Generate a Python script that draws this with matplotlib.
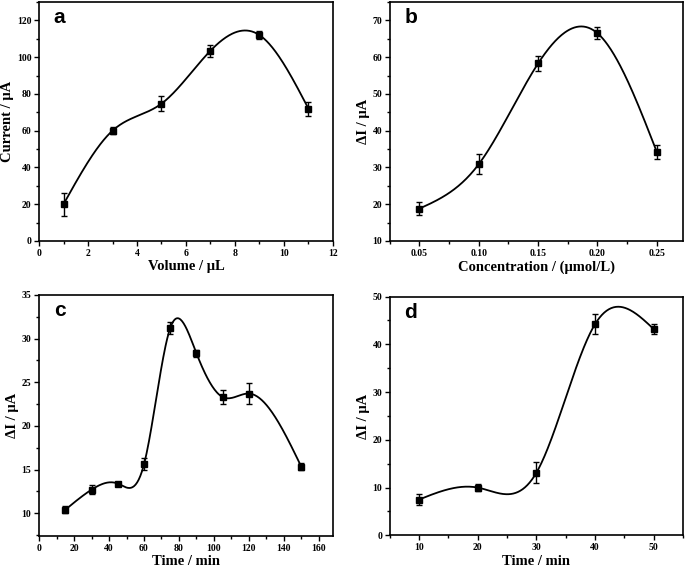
import numpy as np
import matplotlib
matplotlib.use('Agg')
import matplotlib.pyplot as plt
from matplotlib.ticker import AutoMinorLocator, MultipleLocator

plt.rcParams['font.family'] = 'Liberation Serif'
plt.rcParams['font.weight'] = 'bold'

# panel a
vol = [1, 3, 5, 7, 9, 11]
cur = [20.0, 60.0, 74.7, 103.5, 112.0, 72.0]
cur_err = [6.3, 2.0, 4.2, 3.3, 2.0, 3.8]

# panel b
conc = [0.05, 0.10, 0.15, 0.20, 0.25]
di_b = [18.8, 30.9, 58.3, 66.5, 34.2]
di_b_err = [1.7, 2.8, 2.0, 1.6, 2.0]

# panel c
time_c = [15, 30, 45, 60, 75, 90, 105, 120, 150]
di_c = [10.4, 12.7, 13.4, 15.6, 31.2, 28.3, 23.3, 23.7, 15.3]
di_c_err = [0.4, 0.5, 0.15, 0.7, 0.7, 0.4, 0.8, 1.2, 0.4]

# panel d
time_d = [10, 20, 30, 40, 50]
di_d = [7.5, 10.0, 13.1, 44.2, 43.2]
di_d_err = [1.2, 0.8, 2.2, 2.1, 1.0]


def spline(x, y, n=300):
    # natural cubic spline through the points
    x = np.asarray(x, float)
    y = np.asarray(y, float)
    k = len(x)
    h = np.diff(x)
    A = np.zeros((k, k))
    r = np.zeros(k)
    A[0, 0] = A[-1, -1] = 1
    for i in range(1, k - 1):
        A[i, i - 1] = h[i - 1]
        A[i, i] = 2 * (h[i - 1] + h[i])
        A[i, i + 1] = h[i]
        r[i] = 6 * ((y[i + 1] - y[i]) / h[i] - (y[i] - y[i - 1]) / h[i - 1])
    M = np.linalg.solve(A, r)
    xs = np.linspace(x[0], x[-1], n)
    j = np.clip(np.searchsorted(x, xs) - 1, 0, k - 2)
    t1 = x[j + 1] - xs
    t0 = xs - x[j]
    hj = h[j]
    ys = (M[j] * t1**3 / (6 * hj) + M[j + 1] * t0**3 / (6 * hj)
          + (y[j] / hj - M[j] * hj / 6) * t1
          + (y[j + 1] / hj - M[j + 1] * hj / 6) * t0)
    return xs, ys


fig = plt.figure(figsize=(6.85, 5.67), dpi=100)
ax_a = fig.add_axes([0.057, 0.575, 0.429, 0.4215])
ax_b = fig.add_axes([0.569, 0.575, 0.428, 0.4215])
ax_c = fig.add_axes([0.057, 0.0547, 0.429, 0.4253])
ax_d = fig.add_axes([0.569, 0.0558, 0.428, 0.4212])

panels = [
    (ax_a, vol, cur, cur_err, 'a', 'Volume / μL', 'Current / μA'),
    (ax_b, conc, di_b, di_b_err, 'b', 'Concentration / (μmol/L)', 'ΔI / μA'),
    (ax_c, time_c, di_c, di_c_err, 'c', 'Time / min', 'ΔI / μA'),
    (ax_d, time_d, di_d, di_d_err, 'd', 'Time / min', 'ΔI / μA'),
]

for ax, x, y, e, lab, xl, yl in panels:
    xs, ys = spline(x, y)
    ax.plot(xs, ys, color='black', lw=1.3)
    ax.errorbar(x, y, yerr=e, fmt='s', color='black', ms=4.5,
                capsize=2.5, elinewidth=1, capthick=1)
    ax.set_xlabel(xl, fontsize=10.5, fontweight='bold', labelpad=2)
    ax.set_ylabel(yl, fontsize=10.5, fontweight='bold', labelpad=2)
    ax.text(0.05, 0.975, lab, transform=ax.transAxes, va='top', ha='left',
            fontsize=15, fontweight='bold', family='Liberation Sans')
    ax.tick_params(which='both', direction='out', labelsize=7, width=1, pad=2)
    ax.tick_params(which='major', length=3.5)
    ax.tick_params(which='minor', length=2)
    ax.xaxis.set_minor_locator(AutoMinorLocator(2))
    ax.yaxis.set_minor_locator(AutoMinorLocator(2))
    for s in ax.spines.values():
        s.set_linewidth(1.2)

ax_a.set_xlim(0, 12)
ax_a.set_ylim(0, 130)
ax_a.xaxis.set_major_locator(MultipleLocator(2))
ax_a.yaxis.set_major_locator(MultipleLocator(20))

ax_b.set_xlim(0.025, 0.272)
ax_b.set_ylim(10, 75)
ax_b.set_xticks(conc)
ax_b.set_xticklabels(['%.2f' % c for c in conc])
ax_b.yaxis.set_major_locator(MultipleLocator(10))

ax_c.set_xlim(0, 168)
ax_c.set_ylim(7.4, 35)
ax_c.xaxis.set_major_locator(MultipleLocator(20))
ax_c.yaxis.set_major_locator(MultipleLocator(5))

ax_d.set_xlim(5, 55)
ax_d.set_ylim(0, 50)
ax_d.xaxis.set_major_locator(MultipleLocator(10))
ax_d.yaxis.set_major_locator(MultipleLocator(10))

fig.savefig('out.png', dpi=100)
